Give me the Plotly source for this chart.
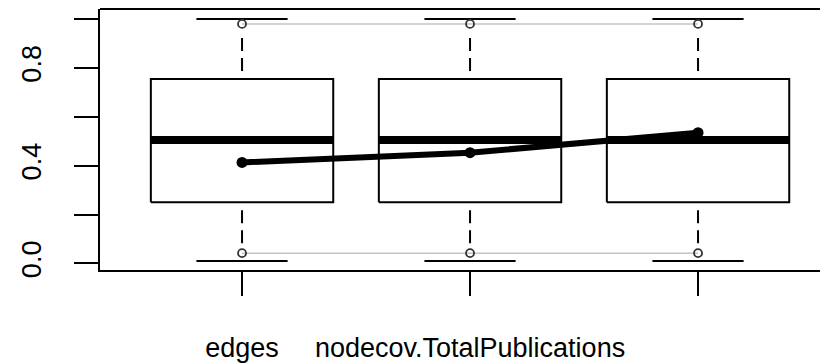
import plotly.graph_objects as go

# ---- data ----
positions = [1, 2, 3]
tick_labels = ["edges", "nodecov.TotalPublications", ""]
whisker_low = [0.01, 0.01, 0.01]
q1 = [0.25, 0.25, 0.25]
median = [0.505, 0.505, 0.505]
q3 = [0.755, 0.755, 0.755]
whisker_high = [1.0, 1.0, 1.0]
sim_low = [0.042, 0.042, 0.042]
sim_high = [0.98, 0.98, 0.98]
observed = [0.413, 0.453, 0.535]
y_tickvals = [0.0, 0.2, 0.4, 0.6, 0.8, 1.0]
y_ticktext = ["0.0", "", "0.4", "", "0.8", ""]

BOX_HW = 0.4
CAP_HW = 0.2
FONT = "Liberation Sans, Arial, sans-serif"
FSIZE = 27

fig = go.Figure()

# gray lines connecting simulated extremes
for arr in (sim_low, sim_high):
    fig.add_trace(go.Scatter(x=positions, y=arr, mode="lines",
                             line=dict(color="#c4c4c4", width=1.5),
                             hoverinfo="skip", showlegend=False))

for i, x in enumerate(positions):
    # whiskers (dashed), drawn from box outward
    dash = "0px,8px,13px,7px,13px,300px"
    fig.add_trace(go.Scatter(x=[x, x], y=[q3[i], whisker_high[i]], mode="lines",
                             line=dict(color="black", width=2, dash=dash),
                             hoverinfo="skip", showlegend=False))
    fig.add_trace(go.Scatter(x=[x, x], y=[q1[i], whisker_low[i]], mode="lines",
                             line=dict(color="black", width=2, dash=dash),
                             hoverinfo="skip", showlegend=False))
    # caps
    for v in (whisker_low[i], whisker_high[i]):
        fig.add_trace(go.Scatter(x=[x - CAP_HW, x + CAP_HW], y=[v, v], mode="lines",
                                 line=dict(color="black", width=2),
                                 hoverinfo="skip", showlegend=False))
    # box
    fig.add_trace(go.Scatter(
        x=[x - BOX_HW, x + BOX_HW, x + BOX_HW, x - BOX_HW, x - BOX_HW],
        y=[q1[i], q1[i], q3[i], q3[i], q1[i]], mode="lines",
        line=dict(color="black", width=2), hoverinfo="skip", showlegend=False))
    # median
    fig.add_trace(go.Scatter(x=[x - BOX_HW, x + BOX_HW], y=[median[i], median[i]],
                             mode="lines", line=dict(color="black", width=8),
                             hoverinfo="skip", showlegend=False))

# simulated extreme markers
for arr in (sim_low, sim_high):
    fig.add_trace(go.Scatter(x=positions, y=arr, mode="markers",
                             marker=dict(symbol="circle-open", size=8,
                                         color="#333333", line=dict(width=1.8)),
                             hoverinfo="skip", showlegend=False))

# observed statistics
fig.add_trace(go.Scatter(x=positions, y=observed, mode="lines+markers",
                         line=dict(color="black", width=6),
                         marker=dict(color="black", size=11),
                         hoverinfo="skip", showlegend=False))

# top border of plot frame
fig.add_shape(type="line", xref="paper", yref="paper", x0=0, x1=1, y0=1, y1=1,
              line=dict(color="black", width=2))

# the page body adds an 8px offset, so margins are reduced by 8px
fig.update_layout(
    width=828, height=364,
    margin=dict(l=92, r=8, t=1, b=102, autoexpand=False),
    paper_bgcolor="white", plot_bgcolor="white",
    font=dict(family=FONT, size=FSIZE, color="black"),
    showlegend=False,
)
fig.update_xaxes(
    range=[0.377, 3.57], tickmode="array", tickvals=positions, ticktext=tick_labels,
    ticks="outside", ticklen=24, tickwidth=2, tickcolor="black", automargin=False,
    showline=True, linecolor="black", linewidth=2, showgrid=False, zeroline=False,
    ticklabelstandoff=29, tickfont=dict(family=FONT, size=FSIZE, color="black"),
)
fig.update_yaxes(
    range=[-0.027, 1.041], tickmode="array", tickvals=y_tickvals, ticktext=y_ticktext,
    ticks="outside", ticklen=24, tickwidth=2, tickcolor="black", tickangle=-90,
    automargin=False,
    showline=True, linecolor="black", linewidth=2, showgrid=False, zeroline=False,
    ticklabelstandoff=22, tickfont=dict(family=FONT, size=FSIZE, color="black"),
)

fig.write_html("out.html")
